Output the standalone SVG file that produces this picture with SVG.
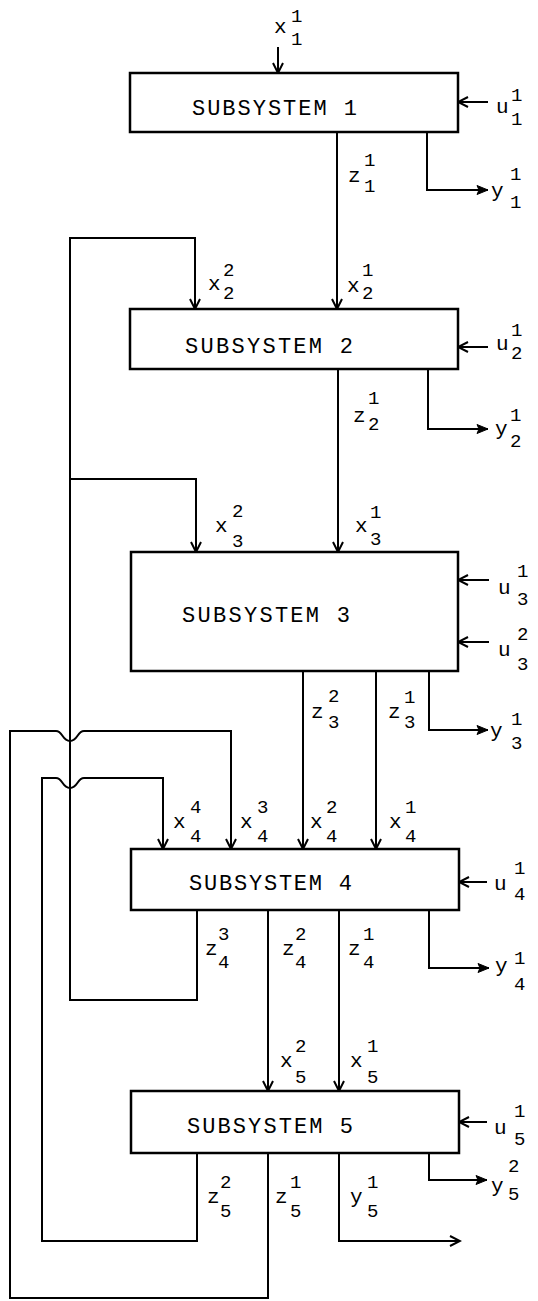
<svg xmlns="http://www.w3.org/2000/svg" width="538" height="1301" viewBox="0 0 538 1301">
<style>
.box{fill:#fff;stroke:#000;stroke-width:2.5}
.t{font-family:"Liberation Mono",monospace;font-size:22px;fill:#000}
.ln{fill:none;stroke:#000;stroke-width:2;stroke-linejoin:miter}
.lb{font-family:"Liberation Mono",monospace;font-size:21px;fill:#000}
.lb tspan{font-size:19px}
</style>
<defs>
<marker id="a" viewBox="-12 -7 14 14" refX="0" refY="0" markerWidth="14" markerHeight="14" markerUnits="userSpaceOnUse" orient="auto">
<path d="M-10,-5 L0,0 L-10,5" fill="none" stroke="#000" stroke-width="2"/>
</marker>
<marker id="f" viewBox="-12 -7 14 14" refX="0" refY="0" markerWidth="14" markerHeight="14" markerUnits="userSpaceOnUse" orient="auto">
<path d="M-11,-4.5 L0,0 L-11,4.5 L-9,0 Z" fill="#000" stroke="#000" stroke-width="1"/>
</marker>
</defs>
<rect width="538" height="1301" fill="#fff"/>
<g id="connectors">
<path class="ln" d="M278,47 V73" marker-end="url(#a)"/>
<path class="ln" d="M488,102 H458" marker-end="url(#a)"/>
<path class="ln" d="M337,132 V309" marker-end="url(#a)"/>
<path class="ln" d="M427,132 V190 H488" marker-end="url(#f)"/>
<path class="ln" d="M197,910 V1000 H70 V238 H195 V309" marker-end="url(#a)"/>
<path class="ln" d="M70,479 H196 V552" marker-end="url(#a)"/>
<path class="ln" d="M488,347 H458" marker-end="url(#a)"/>
<path class="ln" d="M338,369 V552" marker-end="url(#a)"/>
<path class="ln" d="M428,369 V429 H488" marker-end="url(#f)"/>
<path class="ln" d="M489,580 H458" marker-end="url(#a)"/>
<path class="ln" d="M489,642 H458" marker-end="url(#a)"/>
<path class="ln" d="M303,671 V849" marker-end="url(#a)"/>
<path class="ln" d="M376,671 V849" marker-end="url(#a)"/>
<path class="ln" d="M429,671 V730 H488" marker-end="url(#f)"/>
<path class="ln" d="M268,1153 V1298 H10 V731 H56 C63,731 62,741 70,741 C78,741 77,731 84,731 H231 V849" marker-end="url(#a)"/>
<path class="ln" d="M197,1153 V1241 H42 V778 H56 C63,778 62,788 70,788 C78,788 77,778 84,778 H163 V849" marker-end="url(#a)"/>
<path class="ln" d="M487,882 H459" marker-end="url(#a)"/>
<path class="ln" d="M268,910 V1091" marker-end="url(#a)"/>
<path class="ln" d="M339,910 V1091" marker-end="url(#a)"/>
<path class="ln" d="M429,910 V968 H489" marker-end="url(#f)"/>
<path class="ln" d="M487,1122 H459" marker-end="url(#a)"/>
<path class="ln" d="M429,1153 V1180 H487" marker-end="url(#f)"/>
<path class="ln" d="M339,1153 V1241 H460" marker-end="url(#a)"/>
</g>
<g id="subsystem1">
<rect class="box" x="130" y="73" width="328" height="59"/>
<text class="t" x="192" y="115" textLength="165" lengthAdjust="spacing">SUBSYSTEM 1</text>
</g>
<g id="subsystem2">
<rect class="box" x="130" y="309" width="328" height="60"/>
<text class="t" x="185" y="353" textLength="168" lengthAdjust="spacing">SUBSYSTEM 2</text>
</g>
<g id="subsystem3">
<rect class="box" x="131" y="552" width="327" height="119"/>
<text class="t" x="182" y="622" textLength="168" lengthAdjust="spacing">SUBSYSTEM 3</text>
</g>
<g id="subsystem4">
<rect class="box" x="131" y="849" width="328" height="61"/>
<text class="t" x="189" y="890" textLength="163" lengthAdjust="spacing">SUBSYSTEM 4</text>
</g>
<g id="subsystem5">
<rect class="box" x="131" y="1091" width="328" height="62"/>
<text class="t" x="187" y="1133" textLength="166" lengthAdjust="spacing">SUBSYSTEM 5</text>
</g>
<g id="labels">
<text class="lb" x="274" y="33">x<tspan x="291" y="22">1</tspan><tspan x="291" y="45">1</tspan></text>
<text class="lb" x="496" y="113">u<tspan x="511" y="101">1</tspan><tspan x="511" y="125">1</tspan></text>
<text class="lb" x="348" y="182">z<tspan x="364" y="166">1</tspan><tspan x="364" y="192">1</tspan></text>
<text class="lb" x="491" y="197">y<tspan x="510" y="180">1</tspan><tspan x="510" y="208">1</tspan></text>
<text class="lb" x="208" y="290">x<tspan x="223" y="276">2</tspan><tspan x="223" y="299">2</tspan></text>
<text class="lb" x="347" y="292">x<tspan x="362" y="276">1</tspan><tspan x="362" y="299">2</tspan></text>
<text class="lb" x="496" y="350">u<tspan x="511" y="336">1</tspan><tspan x="511" y="359">2</tspan></text>
<text class="lb" x="353" y="422">z<tspan x="368" y="404">1</tspan><tspan x="368" y="430">2</tspan></text>
<text class="lb" x="495" y="435">y<tspan x="510" y="421">1</tspan><tspan x="510" y="447">2</tspan></text>
<text class="lb" x="215" y="532">x<tspan x="232" y="517">2</tspan><tspan x="232" y="547">3</tspan></text>
<text class="lb" x="355" y="532">x<tspan x="370" y="518">1</tspan><tspan x="370" y="545">3</tspan></text>
<text class="lb" x="498" y="594">u<tspan x="517" y="577">1</tspan><tspan x="517" y="605">3</tspan></text>
<text class="lb" x="498" y="656">u<tspan x="517" y="640">2</tspan><tspan x="517" y="670">3</tspan></text>
<text class="lb" x="311" y="718">z<tspan x="328" y="702">2</tspan><tspan x="328" y="728">3</tspan></text>
<text class="lb" x="388" y="718">z<tspan x="404" y="703">1</tspan><tspan x="404" y="728">3</tspan></text>
<text class="lb" x="490" y="737">y<tspan x="511" y="725">1</tspan><tspan x="511" y="749">3</tspan></text>
<text class="lb" x="173" y="828">x<tspan x="190" y="813">4</tspan><tspan x="190" y="842">4</tspan></text>
<text class="lb" x="240" y="828">x<tspan x="257" y="813">3</tspan><tspan x="257" y="842">4</tspan></text>
<text class="lb" x="310" y="828">x<tspan x="326" y="813">2</tspan><tspan x="326" y="842">4</tspan></text>
<text class="lb" x="389" y="828">x<tspan x="405" y="813">1</tspan><tspan x="405" y="842">4</tspan></text>
<text class="lb" x="494" y="890">u<tspan x="514" y="874">1</tspan><tspan x="514" y="900">4</tspan></text>
<text class="lb" x="205" y="955">z<tspan x="218" y="940">3</tspan><tspan x="218" y="968">4</tspan></text>
<text class="lb" x="282" y="955">z<tspan x="295" y="940">2</tspan><tspan x="295" y="968">4</tspan></text>
<text class="lb" x="348" y="955">z<tspan x="363" y="940">1</tspan><tspan x="363" y="968">4</tspan></text>
<text class="lb" x="495" y="972">y<tspan x="514" y="964">1</tspan><tspan x="514" y="990">4</tspan></text>
<text class="lb" x="280" y="1067">x<tspan x="295" y="1052">2</tspan><tspan x="295" y="1083">5</tspan></text>
<text class="lb" x="350" y="1067">x<tspan x="367" y="1052">1</tspan><tspan x="367" y="1083">5</tspan></text>
<text class="lb" x="494" y="1134">u<tspan x="514" y="1117">1</tspan><tspan x="514" y="1145">5</tspan></text>
<text class="lb" x="491" y="1192">y<tspan x="508" y="1172">2</tspan><tspan x="508" y="1200">5</tspan></text>
<text class="lb" x="207" y="1203">z<tspan x="220" y="1188">2</tspan><tspan x="220" y="1217">5</tspan></text>
<text class="lb" x="275" y="1203">z<tspan x="290" y="1188">1</tspan><tspan x="290" y="1217">5</tspan></text>
<text class="lb" x="350" y="1203">y<tspan x="367" y="1188">1</tspan><tspan x="367" y="1217">5</tspan></text>
</g>
</svg>
